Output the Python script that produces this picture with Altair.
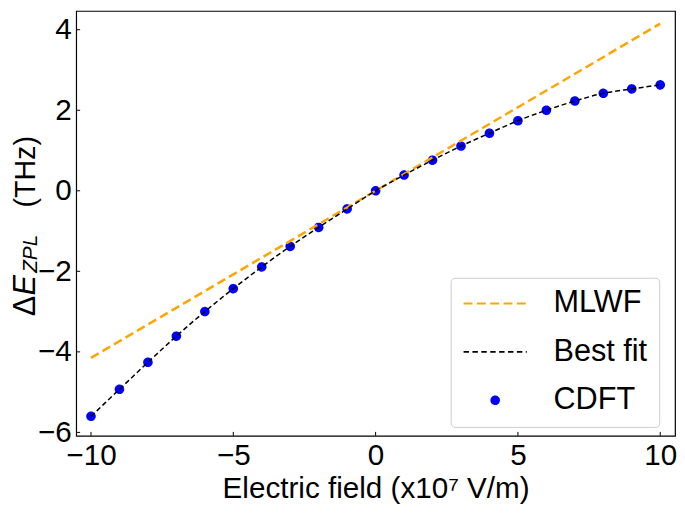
import altair as alt
import pandas as pd

# ---------------- data ----------------
field = list(range(-10, 11))
cdft = [-5.60, -4.93, -4.26, -3.61, -3.00, -2.43, -1.89, -1.38, -0.91, -0.45,
        0.00, 0.39, 0.76, 1.11, 1.43, 1.74, 2.00, 2.23, 2.42, 2.53, 2.63]
best_fit = [-5.60, -4.93, -4.26, -3.61, -3.00, -2.43, -1.89, -1.38, -0.91, -0.45,
            0.00, 0.39, 0.76, 1.11, 1.43, 1.74, 2.00, 2.23, 2.42, 2.53, 2.63]
mlwf_x = [-10, 10]
mlwf_y = [-4.15, 4.15]
series = ["MLWF", "Best fit", "CDFT"]
x_ticks = [-10, -5, 0, 5, 10]
y_ticks = [-6, -4, -2, 0, 2, 4]

# ---------------- styles ----------------
ORANGE, BLACK, BLUE = "#ffa500", "#000000", "#0000ff"
FONT = "Liberation Sans"
W, H = 606, 430
DOT = "M0.12,0A0.12,0.12,0,1,1,-0.12,0A0.12,0.12,0,1,1,0.12,0Z"

df_pts = pd.DataFrame({"x": field, "y": cdft, "series": "CDFT"})
df_fit = pd.DataFrame({"x": field, "y": best_fit})
df_mlwf = pd.DataFrame({"x": mlwf_x, "y": mlwf_y})
df_xt = pd.DataFrame({"x": x_ticks})
df_yt = pd.DataFrame({"y": y_ticks})

xs = alt.Scale(domain=[-10.52, 10.52], nice=False, zero=False)
ys = alt.Scale(domain=[-6.086, 4.466], nice=False, zero=False)

xaxis = alt.Axis(values=x_ticks, format="d", title="Electric field (x10⁷ V/m)",
                 ticks=False, tickSize=0, domain=False, grid=False,
                 labelFont=FONT, labelFontSize=30, labelColor="black", labelPadding=5,
                 titleFont=FONT, titleFontSize=30, titleFontWeight="normal",
                 titleColor="black", titlePadding=3)
yaxis = alt.Axis(values=y_ticks, format="d", title=None,
                 ticks=False, tickSize=0, domain=False, grid=False,
                 labelFont=FONT, labelFontSize=30, labelColor="black", labelPadding=5)

X = alt.X("x:Q", scale=xs, axis=xaxis)
Y = alt.Y("y:Q", scale=ys, axis=yaxis)

leg = alt.Legend(title=None, orient="none", legendX=379, legendY=270,
                 padding=12, rowPadding=18, clipHeight=28, labelOffset=26,
                 labelFont=FONT, labelFontSize=31, labelColor="black", labelLimit=300,
                 fillColor="white", strokeColor="#cccccc", cornerRadius=4,
                 symbolSize=4096, symbolStrokeWidth=2)

points = alt.Chart(df_pts).mark_point(size=4096, strokeWidth=2, opacity=1).encode(
    x=X, y=Y,
    fill=alt.Fill("series:N", scale=alt.Scale(domain=series, range=[ORANGE, BLACK, BLUE]), legend=leg),
    stroke=alt.Stroke("series:N", scale=alt.Scale(domain=series, range=[ORANGE, BLACK, BLUE]), legend=leg),
    shape=alt.Shape("series:N", scale=alt.Scale(domain=series, range=["stroke", "stroke", DOT]), legend=leg),
    strokeDash=alt.StrokeDash("series:N", scale=alt.Scale(domain=series, range=[[9, 4.5], [5.5, 3.5], [1, 0]]), legend=leg),
)

mlwf = alt.Chart(df_mlwf).mark_line(color=ORANGE, strokeDash=[9, 4.5], strokeWidth=2.5).encode(x=X, y=Y)
fit = alt.Chart(df_fit).mark_line(color=BLACK, strokeDash=[5, 3], strokeWidth=1.5,
                                  interpolate="monotone").encode(x=X, y=Y)

yt = alt.Chart(df_yt).mark_rule(color="black", strokeWidth=1).encode(
    y=Y, x=alt.value(0), x2=alt.value(4))
xt = alt.Chart(df_xt).mark_rule(color="black", strokeWidth=1).encode(
    x=X, y=alt.value(H), y2=alt.value(H - 4))


def label(txt, size, italic, xv, yv):
    kw = dict(text=txt, angle=270, align="left", baseline="alphabetic",
              font=FONT, fontSize=size, color="black")
    if italic:
        kw["fontStyle"] = "italic"
    return alt.Chart(pd.DataFrame({"t": [txt]})).mark_text(**kw).encode(
        x=alt.value(xv), y=alt.value(yv))


ylab = (label("Δ", 31, False, -42, 309) + label("E", 31, True, -42, 288)
        + label("ZPL", 21, True, -40, 265) + label("(THz)", 29, False, -42, 199))

chart = alt.layer(points, mlwf, fit, yt, xt, ylab).properties(
    width=W, height=H,
    background="white",
    autosize=alt.AutoSizeParams(type="none"),
    padding={"left": 69, "top": 0, "right": 2, "bottom": 68},
).configure_view(stroke="black", strokeWidth=1.2)

chart.save("out.html", embed_options={"renderer": "svg", "actions": False})
